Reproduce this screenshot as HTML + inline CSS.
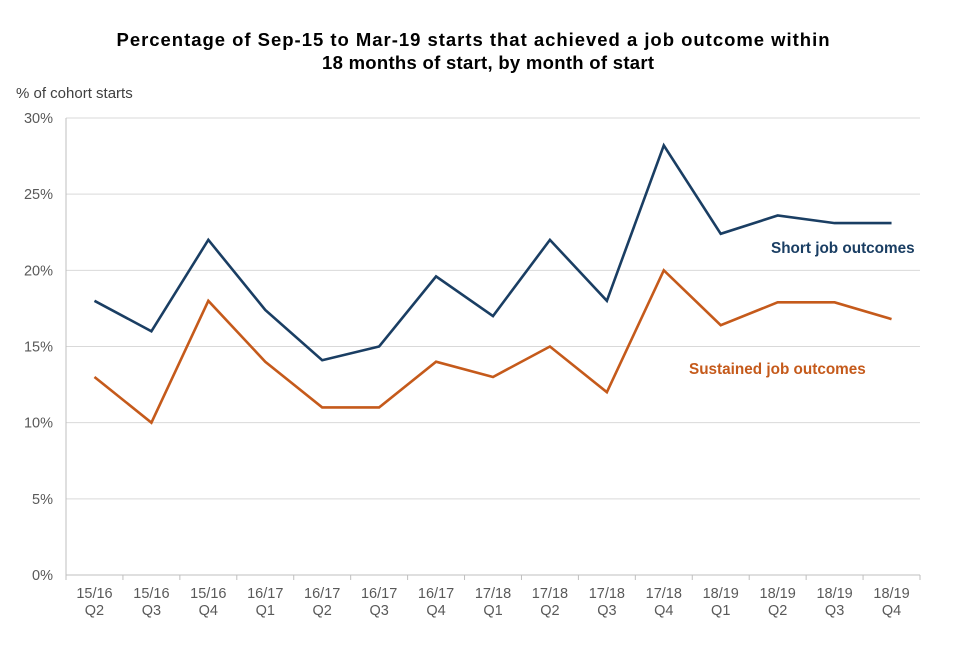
<!DOCTYPE html>
<html><head><meta charset="utf-8"><style>
body{margin:0;background:#fff;font-family:"Liberation Sans",Arial,sans-serif}
</style></head><body>
<svg width="960" height="640" viewBox="0 0 960 640">
<text x="473" y="46" text-anchor="middle" font-size="18.5" font-weight="bold" fill="#000" textLength="713" lengthAdjust="spacing">Percentage of Sep-15 to Mar-19 starts that achieved a job outcome within</text>
<text x="488" y="69" text-anchor="middle" font-size="18.5" font-weight="bold" fill="#000" textLength="332" lengthAdjust="spacing">18 months of start, by month of start</text>
<text x="16" y="98" font-size="15" fill="#404040">% of cohort starts</text>
<g id="grid"></g><g id="axes"></g><g id="series"></g>
<text x="771" y="253" font-size="15.3" font-weight="bold" fill="#1a3e63">Short job outcomes</text>
<text x="689" y="374" font-size="15.3" font-weight="bold" fill="#c55a1b">Sustained job outcomes</text>
</svg>
<script>
const categories=[["15/16","Q2"],["15/16","Q3"],["15/16","Q4"],["16/17","Q1"],["16/17","Q2"],["16/17","Q3"],["16/17","Q4"],["17/18","Q1"],["17/18","Q2"],["17/18","Q3"],["17/18","Q4"],["18/19","Q1"],["18/19","Q2"],["18/19","Q3"],["18/19","Q4"]];
const shortVals=[18,16,22,17.4,14.1,15,19.6,17,22,18,28.2,22.4,23.6,23.1,23.1];
const sustainedVals=[13,10,18,14,11,11,14,13,15,12,20,16.4,17.9,17.9,16.8];
const yTicks=[0,5,10,15,20,25,30];
const NS="http://www.w3.org/2000/svg";
const L=66,R=920,T=118,B=575;
const band=(R-L)/categories.length;
const xs=i=>L+band*(i+0.5);
const ys=v=>B-(v/30)*(B-T);
function mk(tag,attrs,parent,txt){const e=document.createElementNS(NS,tag);for(const k in attrs)e.setAttribute(k,attrs[k]);if(txt!==undefined)e.textContent=txt;parent.appendChild(e);return e;}
const grid=document.getElementById('grid'),axes=document.getElementById('axes'),series=document.getElementById('series');
yTicks.forEach(t=>{
 if(t>0){const g=mk('line',{x1:L,x2:R,y1:ys(t),y2:ys(t),stroke:'#d9d9d9','stroke-width':1},grid);
 
 }
 const lb=mk('text',{x:53,y:ys(t)+5,'text-anchor':'end','font-size':14.5,fill:'#595959'},axes,t+'%');
 
 
});
const ya=mk('line',{x1:L,x2:L,y1:T,y2:B,stroke:'#bfbfbf','stroke-width':1},axes);


const xa=mk('line',{x1:L,x2:R,y1:B,y2:B,stroke:'#bfbfbf','stroke-width':1},axes);


for(let i=0;i<=categories.length;i++){const tk=mk('line',{x1:L+band*i,x2:L+band*i,y1:B,y2:B+5,stroke:'#bfbfbf'},axes);
 
 }
categories.forEach((c,i)=>{
 const t=mk('text',{x:xs(i),y:598,'text-anchor':'middle','font-size':14.5,fill:'#595959'},axes);
 
 
 mk('tspan',{x:xs(i),dy:0},t,c[0]);mk('tspan',{x:xs(i),dy:17},t,c[1]);
});
function line(vals,color,name){
 const p=mk('polyline',{points:vals.map((v,i)=>xs(i)+','+ys(v)).join(' '),fill:'none',stroke:color,'stroke-width':2.6,'stroke-linejoin':'miter'},series);
 
 
}
line(sustainedVals,'#c55a1b','sustained-job-outcomes-line');
line(shortVals,'#1a3e63','short-job-outcomes-line');
</script>
</body></html>
